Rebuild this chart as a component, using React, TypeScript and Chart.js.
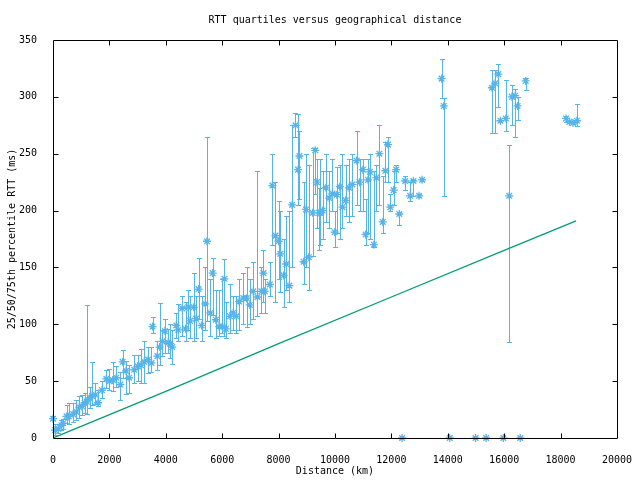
import React, { useEffect, useRef } from "react";
import { Chart, registerables } from "chart.js";

Chart.register(...registerables);

const TITLE = "RTT quartiles versus geographical distance";
const X_LABEL = "Distance (km)";
const Y_LABEL = "25/50/75th percentile RTT (ms)";

const distanceKm = [
  0, 70, 190, 300, 360, 480, 560, 715, 830, 930, 1030, 1125, 1195, 1300, 1385, 1500, 1595, 1735, 1890, 2000,
  2120, 2240, 2390, 2470, 2590, 2700, 2880, 3000, 3120, 3235, 3375, 3490, 3530, 3700, 3785, 3880, 3970, 4090, 4150, 4230,
  4370, 4440, 4580, 4700, 4790, 4860, 4990, 5075, 5165, 5270, 5400, 5460, 5580, 5660, 5775, 5890, 6010, 6080, 6130, 6280,
  6390, 6500, 6600, 6750, 6870, 6980, 7100, 7250, 7390, 7460, 7510, 7690, 7780, 7890, 8000, 8060, 8180, 8270, 8380, 8480,
  8600, 8690, 8740, 8890, 8970, 9070, 9210, 9300, 9360, 9440, 9480, 9560, 9680, 9795, 9910, 9990, 10065, 10170, 10265, 10380,
  10500, 10615, 10765, 10870, 10990, 11085, 11170, 11240, 11380, 11470, 11575, 11695, 11790, 11880, 11960, 12080, 12170, 12280, 12380, 12490,
  12665, 12780, 12980, 13090, 13780, 13860, 14070, 14985, 15360, 15570, 15680, 15790, 15865, 15970, 16060, 16180, 16275, 16390, 16475, 16570,
  16765, 18195, 18315, 18440, 18580,
];

const rttMedian = [
  17, 7, 8, 11, 13, 19, 19, 21, 23, 27, 28, 31, 32, 35, 37, 38, 31, 42, 52, 50,
  51, 53, 47, 67, 59, 53, 60, 63, 64, 67, 69, 66, 98, 72, 80, 85, 94, 84, 83, 80,
  99, 95, 114, 96, 115, 103, 115, 105, 131, 99, 118, 173, 110, 145, 104, 98, 98, 140, 96, 107,
  110, 107, 120, 123, 123, 117, 129, 124, 129, 145, 129, 135, 222, 178, 173, 162, 143, 153, 134, 205,
  275, 236, 248, 155, 201, 159, 198, 253, 225, 198, 198, 200, 220, 211, 215, 181, 214, 221, 203, 209,
  220, 223, 244, 225, 236, 179, 227, 234, 170, 229, 250, 190, 235, 258, 203, 218, 236, 197, 0, 226,
  213, 226, 213, 227, 316, 292, 0, 0, 0, 308, 312, 320, 279, 0, 281, 213, 300, 301, 292, 0,
  314, 281, 278, 277, 279,
];

const rttP25 = [
  16, 3, 4, 7, 8, 13, 12, 14, 16, 18, 20, 22, 21, 26, 29, 30, 28, 35, 44, 42,
  41, 45, 33, 53, 39, 40, 48, 50, 48, 48, 57, 58, 92, 60, 64, 72, 75, 75, 70, 65,
  88, 85, 90, 85, 95, 88, 85, 88, 105, 85, 95, 103, 90, 108, 88, 90, 92, 90, 88, 92,
  95, 92, 95, 100, 98, 100, 105, 107, 110, 120, 110, 125, 170, 120, 140, 128, 115, 130, 120, 150,
  265, 205, 210, 135, 150, 130, 160, 215, 185, 165, 170, 175, 190, 185, 200, 168, 180, 175, 185, 195,
  190, 195, 205, 200, 200, 170, 180, 175, 168, 200, 205, 180, 225, 225, 200, 205, 225, 187, 0, 218,
  208, 213, 212, 226, 299, 213, 0, 0, 0, 268, 268, 291, 278, 0, 270, 84, 275, 265, 280, 0,
  306, 278, 277, 276, 274,
];

const rttP75 = [
  19, 12, 12, 16, 17, 29, 31, 31, 33, 37, 38, 40, 117, 45, 67, 48, 42, 50, 60, 61,
  67, 63, 58, 77, 68, 64, 73, 73, 78, 85, 80, 80, 106, 85, 119, 95, 105, 96, 100, 95,
  110, 118, 125, 120, 130, 125, 145, 125, 158, 125, 150, 265, 140, 158, 130, 130, 140, 157, 120, 135,
  125, 125, 140, 145, 150, 140, 155, 235, 150, 165, 140, 155, 250, 225, 208, 200, 175, 195, 200, 275,
  286, 285, 270, 225, 250, 240, 255, 255, 245, 220, 245, 235, 250, 235, 245, 200, 238, 240, 250, 240,
  245, 250, 270, 245, 245, 210, 245, 250, 235, 240, 275, 230, 260, 265, 215, 235, 240, 199, 0, 230,
  225, 227, 215, 228, 333, 299, 0, 0, 0, 324, 324, 329, 280, 0, 315, 258, 310, 307, 300, 0,
  317, 283, 279, 278, 294,
];

const baselineKm = [0, 4000, 8000, 12000, 16000, 18550];
const baselineRtt = [0, 41, 83, 124, 165, 191];

const X_MIN = 0, X_MAX = 20000, X_STEP = 2000;
const Y_MIN = 0, Y_MAX = 350, Y_STEP = 50;

const BLUE = "#56b4e9";
const GREEN = "#009e73";
const FONT = "'DejaVu Sans Mono', 'Liberation Mono', monospace";

const gnuplotFrame = {
  id: "gnuplotFrame",
  beforeDatasetsDraw(chart: any) {
    const { ctx, scales } = chart;
    const x = scales.x, y = scales.y;
    ctx.save();
    ctx.strokeStyle = BLUE;
    ctx.lineWidth = 1;
    ctx.beginPath();
    for (let i = 0; i < distanceKm.length; i++) {
      if (rttP25[i] === rttP75[i]) continue;
      const px = Math.round(x.getPixelForValue(distanceKm[i])) + 0.5;
      const y1 = Math.round(y.getPixelForValue(rttP25[i])) + 0.5;
      const y2 = Math.round(y.getPixelForValue(rttP75[i])) + 0.5;
      ctx.moveTo(px, y1);
      ctx.lineTo(px, y2);
      ctx.moveTo(px - 2.5, y1);
      ctx.lineTo(px + 2.5, y1);
      ctx.moveTo(px - 2.5, y2);
      ctx.lineTo(px + 2.5, y2);
    }
    ctx.stroke();
    ctx.restore();
  },
  afterDraw(chart: any) {
    const { ctx, chartArea, scales } = chart;
    const x = scales.x, y = scales.y;
    const l = Math.round(chartArea.left) + 0.5;
    const r = Math.round(chartArea.right) + 0.5;
    const t = Math.round(chartArea.top) + 0.5;
    const b = Math.round(chartArea.bottom) + 0.5;
    const len = 5;
    ctx.save();
    ctx.strokeStyle = "#000";
    ctx.lineWidth = 1;
    ctx.beginPath();
    ctx.rect(l, t, r - l, b - t);
    for (let v = X_MIN + X_STEP; v < X_MAX; v += X_STEP) {
      const px = Math.round(x.getPixelForValue(v)) + 0.5;
      ctx.moveTo(px, b);
      ctx.lineTo(px, b - len);
      ctx.moveTo(px, t);
      ctx.lineTo(px, t + len);
    }
    for (let v = Y_MIN + Y_STEP; v < Y_MAX; v += Y_STEP) {
      const py = Math.round(y.getPixelForValue(v)) + 0.5;
      ctx.moveTo(l, py);
      ctx.lineTo(l + len, py);
      ctx.moveTo(r, py);
      ctx.lineTo(r - len, py);
    }
    ctx.stroke();
    ctx.restore();
  },
};

export default function App() {
  const canvasRef = useRef<HTMLCanvasElement | null>(null);

  useEffect(() => {
    const canvas = canvasRef.current;
    if (!canvas) return;
    const medianPoints = distanceKm.map((d, i) => ({ x: d, y: rttMedian[i] }));
    const baselinePoints = baselineKm.map((d, i) => ({ x: d, y: baselineRtt[i] }));

    const chart = new Chart(canvas, {
      type: "scatter",
      data: {
        datasets: [
          {
            label: "median",
            data: medianPoints,
            pointStyle: "star",
            pointRadius: 4,
            pointBorderWidth: 1.3,
            borderColor: BLUE,
            backgroundColor: BLUE,
            showLine: false,
            clip: false,
          } as any,
          {
            label: "baseline",
            data: baselinePoints,
            showLine: true,
            borderColor: GREEN,
            borderWidth: 1.3,
            pointRadius: 0,
            fill: false,
          } as any,
        ],
      },
      options: {
        animation: false,
        responsive: false,
        events: [],
        layout: { padding: { left: 0, right: 18, top: 0, bottom: 0 } },
        plugins: {
          legend: { display: false },
          tooltip: { enabled: false },
          title: {
            display: true,
            text: TITLE,
            fullSize: false,
            color: "#000",
            font: { family: FONT, size: 10, weight: "normal" as any, lineHeight: 1.2 },
            padding: { top: 14, bottom: 14 },
          },
        },
        scales: {
          x: {
            type: "linear",
            min: X_MIN,
            max: X_MAX,
            grid: { display: false },
            border: { display: false },
            ticks: {
              stepSize: X_STEP,
              color: "#000",
              padding: 8,
              maxRotation: 0,
              font: { family: FONT, size: 10 },
              callback: (v: any) => String(v),
            },
            title: {
              display: true,
              text: X_LABEL,
              color: "#000",
              font: { family: FONT, size: 10, lineHeight: 1.2 },
              padding: { top: 0, bottom: 2.5 },
            },
            afterFit: (scale: any) => {
              scale.height = 42;
            },
          },
          y: {
            type: "linear",
            min: Y_MIN,
            max: Y_MAX,
            grid: { display: false },
            border: { display: false },
            ticks: {
              stepSize: Y_STEP,
              color: "#000",
              padding: 8,
              font: { family: FONT, size: 10 },
              callback: (v: any) => String(v),
            },
            title: {
              display: true,
              text: Y_LABEL,
              color: "#000",
              font: { family: FONT, size: 10, lineHeight: 1.2 },
              padding: { top: 6, bottom: 0 },
            },
            afterFit: (scale: any) => {
              scale.width = 53;
            },
          },
        },
      },
      plugins: [gnuplotFrame],
    });
    return () => chart.destroy();
  }, []);

  return (
    <div style={{ position: "absolute", left: 0, top: 0, width: 640, height: 480, background: "#fff" }}>
      <canvas ref={canvasRef} width={640} height={480} style={{ display: "block", width: 640, height: 480 }} />
    </div>
  );
}
